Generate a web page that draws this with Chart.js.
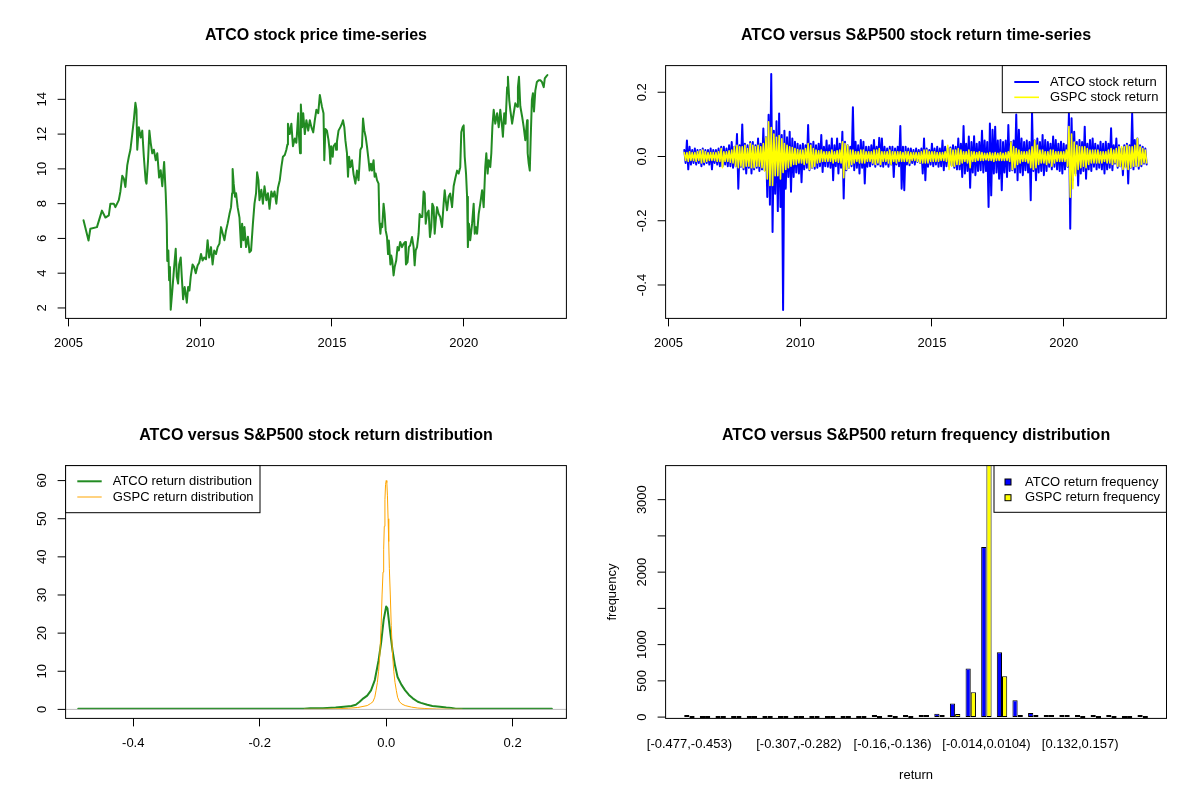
<!DOCTYPE html>
<html>
<head>
<meta charset="utf-8">
<title>ATCO versus S&amp;P500</title>
<script src="https://cdn.jsdelivr.net/npm/chart.js@4.4.1/dist/chart.umd.min.js"></script>
<style>
  body { margin: 0; background: #fff; }
  #wrap { position: relative; width: 1200px; height: 800px; }
  #wrap canvas { position: absolute; }
</style>
</head>
<body>
<div id="wrap">
  <canvas id="priceChart" width="600" height="400" style="left:0;top:0"></canvas>
  <canvas id="returnChart" width="600" height="400" style="left:600px;top:0"></canvas>
  <canvas id="densityChart" width="600" height="400" style="left:0;top:400px"></canvas>
  <canvas id="freqChart" width="600" height="400" style="left:600px;top:400px"></canvas>
</div>
<script>
const FONT = '"Liberation Sans", Arial, sans-serif';

// --- price series ---
const priceYears = [
  2005.57, 2005.76, 2005.83, 2006.08, 2006.27, 2006.40, 2006.53, 2006.59, 2006.72, 2006.78,
  2006.91, 2006.97, 2007.04, 2007.10, 2007.16, 2007.23, 2007.29, 2007.35, 2007.42, 2007.48,
  2007.54, 2007.58, 2007.61, 2007.67, 2007.74, 2007.80, 2007.86, 2007.93, 2007.96, 2008.02,
  2008.07, 2008.12, 2008.18, 2008.24, 2008.31, 2008.37, 2008.44, 2008.50, 2008.56, 2008.63,
  2008.69, 2008.73, 2008.75, 2008.79, 2008.82, 2008.85, 2008.88, 2008.94, 2009.01, 2009.07,
  2009.11, 2009.16, 2009.20, 2009.26, 2009.30, 2009.35, 2009.41, 2009.45, 2009.49, 2009.54,
  2009.59, 2009.64, 2009.71, 2009.77, 2009.83, 2009.90, 2009.96, 2010.03, 2010.09, 2010.15,
  2010.22, 2010.28, 2010.34, 2010.41, 2010.47, 2010.53, 2010.60, 2010.66, 2010.73, 2010.79,
  2010.85, 2010.92, 2010.98, 2011.04, 2011.11, 2011.17, 2011.21, 2011.23, 2011.27, 2011.32,
  2011.36, 2011.42, 2011.49, 2011.55, 2011.59, 2011.64, 2011.68, 2011.74, 2011.81, 2011.87,
  2011.93, 2012.00, 2012.06, 2012.12, 2012.16, 2012.21, 2012.25, 2012.32, 2012.38, 2012.44,
  2012.51, 2012.57, 2012.63, 2012.70, 2012.76, 2012.82, 2012.89, 2012.95, 2013.02, 2013.08,
  2013.14, 2013.21, 2013.27, 2013.31, 2013.33, 2013.40, 2013.46, 2013.52, 2013.59, 2013.65,
  2013.72, 2013.75, 2013.79, 2013.82, 2013.87, 2013.91, 2013.97, 2014.03, 2014.10, 2014.16,
  2014.22, 2014.29, 2014.35, 2014.41, 2014.48, 2014.54, 2014.62, 2014.68, 2014.71, 2014.75,
  2014.81, 2014.87, 2014.91, 2014.94, 2014.97, 2015.03, 2015.06, 2015.13, 2015.16, 2015.19,
  2015.25, 2015.32, 2015.38, 2015.42, 2015.47, 2015.51, 2015.57, 2015.61, 2015.65, 2015.70,
  2015.76, 2015.82, 2015.89, 2015.95, 2016.01, 2016.08, 2016.14, 2016.18, 2016.23, 2016.28,
  2016.33, 2016.39, 2016.43, 2016.48, 2016.52, 2016.58, 2016.62, 2016.66, 2016.71, 2016.77,
  2016.80, 2016.84, 2016.87, 2016.91, 2016.96, 2017.00, 2017.04, 2017.09, 2017.13, 2017.16,
  2017.22, 2017.25, 2017.29, 2017.34, 2017.38, 2017.44, 2017.49, 2017.54, 2017.59, 2017.66,
  2017.72, 2017.78, 2017.81, 2017.87, 2017.92, 2017.97, 2018.04, 2018.10, 2018.14, 2018.18,
  2018.23, 2018.29, 2018.33, 2018.38, 2018.43, 2018.48, 2018.52, 2018.56, 2018.61, 2018.67,
  2018.72, 2018.77, 2018.81, 2018.86, 2018.90, 2018.94, 2018.99, 2019.05, 2019.11, 2019.18,
  2019.24, 2019.28, 2019.32, 2019.37, 2019.43, 2019.49, 2019.56, 2019.62, 2019.68, 2019.75,
  2019.81, 2019.87, 2019.91, 2019.96, 2020.00, 2020.04, 2020.09, 2020.13, 2020.16, 2020.20,
  2020.25, 2020.32, 2020.38, 2020.42, 2020.47, 2020.51, 2020.57, 2020.63, 2020.70, 2020.76,
  2020.82, 2020.86, 2020.91, 2020.95, 2021.01, 2021.05, 2021.09, 2021.14, 2021.20, 2021.27,
  2021.33, 2021.39, 2021.46, 2021.49, 2021.54, 2021.59, 2021.65, 2021.68, 2021.73, 2021.77,
  2021.84, 2021.90, 2021.96, 2022.03, 2022.06, 2022.10, 2022.15, 2022.22, 2022.28, 2022.34,
  2022.41, 2022.43, 2022.47, 2022.51, 2022.54, 2022.59, 2022.63, 2022.67, 2022.72, 2022.78,
  2022.85, 2022.91, 2022.97, 2023.04, 2023.08, 2023.13, 2023.18
];
const priceValues = [
  7.04, 5.88, 6.56, 6.65, 7.6, 7.2, 7.33, 8.0, 8.0, 7.8,
  8.2, 8.7, 9.6, 9.44, 8.96, 10.2, 10.7, 11.1, 12.0, 12.8,
  13.8, 13.4, 11.1, 12.4, 11.8, 12.2, 10.7, 9.3, 9.15, 10.5,
  12.2, 11.5, 10.9, 11.1, 10.5, 10.9, 9.5, 9.92, 9.0, 10.4,
  8.6, 6.85, 4.7, 5.3, 3.6, 4.35, 1.9, 3.0, 4.35, 5.4,
  3.8, 3.4, 4.5, 4.9, 3.8, 2.5, 3.2, 2.81, 2.3, 3.2,
  3.0, 3.8, 4.5, 4.35, 4.0, 4.44, 4.6, 5.1, 4.73, 4.9,
  4.8, 5.9, 4.9, 5.5, 4.5, 5.3, 5.1, 5.5, 5.7, 6.65,
  6.3, 5.9, 6.46, 6.85, 7.4, 7.8, 8.6, 10.0, 9.15, 8.4,
  8.6, 7.8, 7.2, 5.5, 6.85, 5.9, 6.65, 5.5, 6.1, 5.2,
  5.3, 6.85, 8.0, 8.6, 9.8, 9.35, 8.2, 8.8, 8.0, 9.0,
  8.2, 8.6, 7.7, 8.7, 8.4, 8.7, 8.0, 8.9, 9.35, 10.1,
  10.7, 10.8, 11.1, 11.4, 12.6, 12.0, 12.6, 11.3, 11.75, 11.5,
  13.2, 11.85, 10.9, 13.7, 12.4, 13.2, 12.0, 12.8, 12.2, 12.8,
  12.4, 12.1, 12.8, 13.4, 13.2, 14.25, 13.58, 13.2, 10.5, 12.3,
  12.2, 11.65, 11.1, 10.3, 11.3, 10.7, 11.3, 11.46, 11.1, 11.56,
  12.2, 12.4, 12.6, 12.8, 12.4, 11.65, 10.9, 9.55, 10.7, 10.1,
  10.5, 9.7, 9.15, 9.9, 9.35, 11.1, 11.27, 12.9, 12.2, 11.85,
  11.3, 10.5, 9.9, 10.3, 9.9, 10.5, 9.55, 9.73, 9.35, 9.15,
  7.04, 6.27, 6.85, 6.65, 8.0, 7.42, 6.46, 6.08, 5.1, 5.88,
  4.5, 5.02, 4.73, 3.87, 4.35, 4.73, 5.5, 5.31, 5.8, 5.5,
  5.7, 5.79, 4.5, 4.63, 5.5, 5.6, 6.08, 5.5, 4.45, 5.31,
  5.5, 6.27, 7.4, 7.23, 7.23, 8.7, 8.58, 6.85, 7.42, 7.6,
  6.08, 6.65, 8.0, 7.8, 6.27, 7.04, 7.8, 7.42, 7.23, 6.65,
  8.0, 8.77, 8.19, 7.62, 8.4, 8.58, 7.8, 9.0, 9.45, 9.9,
  9.73, 10.1, 12.1, 12.4, 12.5, 10.7, 9.73, 8.4, 5.5, 6.85,
  5.9, 6.85, 8.0, 6.27, 6.65, 6.27, 7.4, 8.0, 8.77, 7.8,
  10.1, 10.9, 9.73, 10.5, 10.1, 10.9, 12.4, 13.4, 12.6, 13.2,
  12.4, 13.4, 12.4, 11.85, 13.2, 12.6, 14.7, 15.3, 13.96, 13.4,
  12.6, 13.2, 13.77, 13.58, 14.7, 15.3, 13.6, 13.0, 12.4, 11.65,
  12.8, 10.9, 10.3, 9.9, 11.5, 13.96, 14.35, 13.3, 14.5, 15.0,
  15.1, 15.1, 15.0, 14.7, 15.2, 15.3, 15.4
];
const yearTicks = [2005, 2010, 2015, 2020];
const priceTicks = [2, 4, 6, 8, 10, 12, 14];

// --- daily returns, upper / lower envelope per 0.1-year slot from 2005.6 ---
const retStart = 2005.6;
const retStep = 0.1;
const atcoHi = [
  0.02, 0.05, 0.03, 0.02, 0.025, 0.02, 0.02, 0.025, 0.02, 0.02,
  0.025, 0.02, 0.02, 0.025, 0.03, 0.03, 0.025, 0.035, 0.045, 0.03,
  0.07, 0.035, 0.1, 0.04, 0.035, 0.045, 0.045, 0.035, 0.056, 0.04,
  0.087, 0.06, 0.13, 0.257, 0.08, 0.11, 0.134, 0.067, 0.08, 0.06,
  0.077, 0.056, 0.046, 0.04, 0.035, 0.04, 0.035, 0.098, 0.04, 0.046,
  0.035, 0.04, 0.067, 0.03, 0.05, 0.035, 0.056, 0.035, 0.056, 0.04,
  0.077, 0.046, 0.035, 0.03, 0.153, 0.046, 0.035, 0.051, 0.046, 0.03,
  0.03, 0.035, 0.051, 0.03, 0.058, 0.056, 0.03, 0.025, 0.03, 0.03,
  0.025, 0.03, 0.095, 0.03, 0.03, 0.025, 0.025, 0.02, 0.025, 0.02,
  0.025, 0.056, 0.025, 0.02, 0.04, 0.025, 0.03, 0.025, 0.05, 0.03,
  0.025, 0.028, 0.035, 0.03, 0.056, 0.04, 0.095, 0.04, 0.062, 0.045,
  0.063, 0.04, 0.045, 0.08, 0.05, 0.045, 0.103, 0.083, 0.093, 0.05,
  0.051, 0.045, 0.05, 0.098, 0.045, 0.05, 0.131, 0.083, 0.056, 0.045,
  0.05, 0.045, 0.136, 0.05, 0.056, 0.045, 0.067, 0.051, 0.045, 0.04,
  0.062, 0.051, 0.04, 0.046, 0.04, 0.035, 0.134, 0.119, 0.077, 0.045,
  0.051, 0.045, 0.093, 0.04, 0.051, 0.056, 0.04, 0.035, 0.046, 0.04,
  0.046, 0.04, 0.088, 0.035, 0.056, 0.035, 0.025, 0.035, 0.04, 0.035,
  0.134, 0.051, 0.056, 0.035, 0.03, 0.025
];
const atcoLo = [
  -0.02, -0.04, -0.025, -0.02, -0.025, -0.02, -0.03, -0.025, -0.02, -0.025,
  -0.04, -0.02, -0.025, -0.03, -0.03, -0.025, -0.03, -0.03, -0.035, -0.03,
  -0.1, -0.032, -0.04, -0.053, -0.035, -0.053, -0.04, -0.035, -0.045, -0.04,
  -0.043, -0.126, -0.15, -0.235, -0.116, -0.17, -0.157, -0.478, -0.1, -0.064,
  -0.11, -0.064, -0.05, -0.053, -0.08, -0.04, -0.035, -0.043, -0.035, -0.038,
  -0.035, -0.03, -0.048, -0.03, -0.032, -0.035, -0.074, -0.03, -0.053, -0.035,
  -0.131, -0.043, -0.035, -0.03, -0.043, -0.035, -0.053, -0.035, -0.084, -0.032,
  -0.03, -0.025, -0.032, -0.025, -0.03, -0.032, -0.025, -0.032, -0.025, -0.064,
  -0.025, -0.03, -0.1, -0.105, -0.025, -0.027, -0.02, -0.025, -0.017, -0.02,
  -0.053, -0.074, -0.032, -0.025, -0.03, -0.025, -0.032, -0.03, -0.043, -0.03,
  -0.03, -0.027, -0.035, -0.04, -0.04, -0.064, -0.053, -0.045, -0.097, -0.05,
  -0.058, -0.045, -0.043, -0.05, -0.045, -0.157, -0.121, -0.053, -0.05, -0.069,
  -0.105, -0.05, -0.064, -0.045, -0.043, -0.05, -0.074, -0.05, -0.058, -0.043,
  -0.05, -0.136, -0.045, -0.074, -0.05, -0.045, -0.058, -0.045, -0.032, -0.04,
  -0.032, -0.04, -0.045, -0.053, -0.04, -0.032, -0.225, -0.074, -0.053, -0.09,
  -0.053, -0.045, -0.069, -0.04, -0.045, -0.032, -0.04, -0.035, -0.04, -0.053,
  -0.04, -0.035, -0.043, -0.022, -0.035, -0.03, -0.058, -0.032, -0.084, -0.035,
  -0.04, -0.03, -0.038, -0.03, -0.022, -0.025
];
const gspcHi = [
  0.012, 0.012, 0.015, 0.012, 0.012, 0.015, 0.018, 0.02, 0.015, 0.012,
  0.012, 0.012, 0.012, 0.015, 0.025, 0.015, 0.015, 0.018, 0.02, 0.03,
  0.035, 0.03, 0.03, 0.035, 0.025, 0.04, 0.035, 0.03, 0.035, 0.03,
  0.04, 0.06, 0.108, 0.09, 0.07, 0.06, 0.065, 0.055, 0.04, 0.035,
  0.03, 0.028, 0.025, 0.022, 0.02, 0.02, 0.025, 0.04, 0.035, 0.025,
  0.02, 0.018, 0.02, 0.015, 0.015, 0.015, 0.02, 0.015, 0.018, 0.02,
  0.046, 0.04, 0.035, 0.02, 0.02, 0.015, 0.015, 0.02, 0.02, 0.015,
  0.015, 0.015, 0.02, 0.02, 0.025, 0.015, 0.015, 0.015, 0.02, 0.015,
  0.015, 0.015, 0.015, 0.012, 0.015, 0.015, 0.012, 0.012, 0.012, 0.012,
  0.015, 0.02, 0.02, 0.015, 0.015, 0.015, 0.012, 0.012, 0.012, 0.015,
  0.035, 0.025, 0.02, 0.02, 0.025, 0.02, 0.015, 0.015, 0.02, 0.015,
  0.015, 0.012, 0.015, 0.012, 0.01, 0.01, 0.012, 0.01, 0.012, 0.01,
  0.012, 0.01, 0.012, 0.015, 0.045, 0.03, 0.025, 0.02, 0.015, 0.015,
  0.015, 0.02, 0.03, 0.05, 0.035, 0.02, 0.02, 0.015, 0.015, 0.02,
  0.02, 0.015, 0.015, 0.015, 0.015, 0.02, 0.093, 0.07, 0.045, 0.035,
  0.03, 0.03, 0.03, 0.025, 0.02, 0.02, 0.02, 0.02, 0.015, 0.015,
  0.015, 0.02, 0.025, 0.02, 0.025, 0.03, 0.03, 0.03, 0.035, 0.03,
  0.03, 0.035, 0.056, 0.03, 0.025, 0.02
];
const gspcLo = [
  -0.012, -0.015, -0.012, -0.012, -0.015, -0.012, -0.02, -0.018, -0.015, -0.012,
  -0.012, -0.012, -0.015, -0.015, -0.035, -0.015, -0.015, -0.018, -0.02, -0.03,
  -0.035, -0.03, -0.035, -0.03, -0.03, -0.035, -0.035, -0.03, -0.03, -0.035,
  -0.045, -0.07, -0.09, -0.09, -0.06, -0.06, -0.07, -0.05, -0.04, -0.035,
  -0.03, -0.025, -0.025, -0.02, -0.02, -0.025, -0.02, -0.04, -0.035, -0.03,
  -0.02, -0.018, -0.015, -0.015, -0.015, -0.015, -0.02, -0.015, -0.018, -0.02,
  -0.066, -0.04, -0.035, -0.025, -0.02, -0.015, -0.02, -0.02, -0.02, -0.015,
  -0.015, -0.02, -0.025, -0.02, -0.025, -0.015, -0.015, -0.02, -0.025, -0.015,
  -0.02, -0.015, -0.015, -0.015, -0.015, -0.02, -0.012, -0.012, -0.015, -0.02,
  -0.02, -0.02, -0.02, -0.015, -0.015, -0.015, -0.015, -0.012, -0.012, -0.015,
  -0.04, -0.03, -0.03, -0.025, -0.025, -0.02, -0.015, -0.02, -0.035, -0.015,
  -0.015, -0.012, -0.012, -0.012, -0.01, -0.012, -0.012, -0.015, -0.012, -0.012,
  -0.012, -0.012, -0.012, -0.015, -0.041, -0.035, -0.025, -0.02, -0.015, -0.015,
  -0.02, -0.035, -0.04, -0.035, -0.025, -0.02, -0.02, -0.025, -0.02, -0.03,
  -0.02, -0.015, -0.015, -0.015, -0.015, -0.03, -0.127, -0.1, -0.06, -0.04,
  -0.035, -0.03, -0.035, -0.025, -0.02, -0.02, -0.02, -0.02, -0.02, -0.015,
  -0.02, -0.02, -0.025, -0.02, -0.03, -0.03, -0.04, -0.035, -0.04, -0.035,
  -0.03, -0.03, -0.03, -0.025, -0.02, -0.02
];
const returnTicks = [-0.4, -0.2, 0.0, 0.2];

// --- kernel densities ---
const atcoDensX = [-0.487, -0.3, -0.13, -0.12, -0.1, -0.08, -0.067, -0.055, -0.048, -0.042,
  -0.036, -0.03, -0.024, -0.018, -0.012, -0.008, -0.004, 0.0, 0.002, 0.006,
  0.01, 0.014, 0.018, 0.024, 0.03, 0.036, 0.042, 0.05, 0.055, 0.065,
  0.073, 0.085, 0.095, 0.103, 0.11, 0.15, 0.262];
const atcoDensY = [0.15, 0.15, 0.15, 0.3, 0.3, 0.5, 0.7, 0.9, 1.2, 2.0,
  2.9, 3.6, 5.0, 7.7, 12.9, 17.5, 23.5, 27.0, 26.5, 20.7,
  15.5, 11.5, 8.5, 6.5, 5.0, 3.8, 2.9, 2.0, 1.7, 1.2,
  0.9, 0.7, 0.5, 0.4, 0.2, 0.15, 0.15];
const gspcDensX = [-0.13, -0.1, -0.08, -0.06, -0.045, -0.03, -0.025, -0.021, -0.018, -0.016,
  -0.014, -0.012, -0.01, -0.008, -0.0065, -0.005, -0.004, -0.003, -0.002, -0.001,
  0.0, 0.001, 0.002, 0.003, 0.004, 0.005, 0.0065, 0.008, 0.01, 0.012,
  0.014, 0.016, 0.018, 0.021, 0.025, 0.03, 0.04, 0.05, 0.06, 0.08,
  0.1, 0.12];
const gspcDensY = [0.02, 0.05, 0.15, 0.3, 0.5, 1.0, 1.5, 2.0, 3.2, 5.0,
  7.0, 10.0, 14.5, 22, 30, 36, 42, 48, 55, 59,
  60, 59.5, 56, 50, 44, 37, 30, 22, 14.5, 10,
  7, 5, 3.2, 2, 1.4, 1.0, 0.6, 0.35, 0.25, 0.1,
  0.05, 0.02];
const densXTicks = [-0.4, -0.2, 0.0, 0.2];
const densYTicks = [0, 10, 20, 30, 40, 50, 60];

// --- histogram of returns (30 bins) ---
const binLabels = [
  '[-0.477,-0.453)', '[-0.453,-0.428)', '[-0.428,-0.404)', '[-0.404,-0.38)', '[-0.38,-0.355)',
  '[-0.355,-0.331)', '[-0.331,-0.307)', '[-0.307,-0.282)', '[-0.282,-0.258)', '[-0.258,-0.233)',
  '[-0.233,-0.209)', '[-0.209,-0.185)', '[-0.185,-0.16)', '[-0.16,-0.136)', '[-0.136,-0.111)',
  '[-0.111,-0.0872)', '[-0.0872,-0.0628)', '[-0.0628,-0.0384)', '[-0.0384,-0.014)', '[-0.014,0.0104)',
  '[0.0104,0.0348)', '[0.0348,0.0592)', '[0.0592,0.0836)', '[0.0836,0.108)', '[0.108,0.132)',
  '[0.132,0.157)', '[0.157,0.181)', '[0.181,0.206)', '[0.206,0.23)', '[0.23,0.255)'
];
const shownBins = [0, 7, 13, 19, 25];
const atcoFreq = [1, 0, 0, 0, 0, 0, 0, 0, 0, 0,
  0, 0, 3, 12, 18, 30, 45, 186, 672, 2348,
  893, 232, 58, 28, 14, 3, 2, 1, 0, 1];
const gspcFreq = [0, 0, 0, 0, 0, 0, 0, 0, 0, 0,
  0, 0, 0, 0, 0, 3, 14, 42, 343, 3512,
  564, 28, 10, 3, 1, 0, 0, 0, 0, 0];
const freqTicks = [0, 500, 1000, 1500, 2000, 2500, 3000];
const freqLabels = ['0', '500', '1000', '', '2000', '', '3000'];

// R-like frame: box, rotated y labels, title, boxed legend
const rFrame = {
  id: 'rFrame',
  afterDatasetsDraw(chart, args, o) {
    if (!o.zeroLine) return;
    const { ctx, chartArea: a } = chart;
    const y = chart.scales.y.getPixelForValue(0);
    ctx.save();
    ctx.strokeStyle = '#BEBEBE';
    ctx.lineWidth = 1;
    ctx.beginPath();
    ctx.moveTo(a.left, y);
    ctx.lineTo(a.right, y);
    ctx.stroke();
    ctx.restore();
  },
  afterDraw(chart, args, o) {
    const { ctx, chartArea: a } = chart;
    const pad = o.boxPad || 0;
    const left = a.left - pad, right = a.right + pad, mid = (left + right) / 2;
    const ys = chart.scales.y;
    ctx.save();
    ctx.strokeStyle = '#000';
    ctx.fillStyle = '#000';
    ctx.lineWidth = 1;
    ctx.font = '13px ' + FONT;
    ctx.textAlign = 'center';
    ctx.textBaseline = 'middle';
    o.yTicks.forEach((v, i) => {
      const y = ys.getPixelForValue(v);
      ctx.beginPath();
      ctx.moveTo(left, y);
      ctx.lineTo(left - 8, y);
      ctx.stroke();
      const lab = o.yLabels[i];
      if (lab) {
        ctx.save();
        ctx.translate(left - 23.3, y);
        ctx.rotate(-Math.PI / 2);
        ctx.fillText(lab, 0, 0);
        ctx.restore();
      }
    });
    ctx.strokeRect(left, a.top, right - left, a.bottom - a.top);
    if (o.xTitle) ctx.fillText(o.xTitle, mid, 375);
    if (o.yTitle) {
      ctx.save();
      ctx.translate(12, (a.top + a.bottom) / 2);
      ctx.rotate(-Math.PI / 2);
      ctx.fillText(o.yTitle, 0, 0);
      ctx.restore();
    }
    ctx.font = 'bold 16px ' + FONT;
    ctx.fillText(o.title, mid, 35.5);

    const lg = o.legend;
    if (lg) {
      ctx.fillStyle = '#fff';
      ctx.fillRect(lg.x0, lg.y0, lg.x1 - lg.x0, lg.y1 - lg.y0);
      ctx.strokeStyle = '#000';
      ctx.lineWidth = 1;
      ctx.strokeRect(lg.x0, lg.y0, lg.x1 - lg.x0, lg.y1 - lg.y0);
      ctx.font = '13px ' + FONT;
      ctx.textAlign = 'left';
      chart.data.datasets.forEach((ds, i) => {
        const y = lg.rows[i];
        if (lg.fill) {
          ctx.fillStyle = ds.backgroundColor;
          ctx.fillRect(lg.symX0, y - 3, 6, 6);
          ctx.strokeStyle = '#000';
          ctx.lineWidth = 1;
          ctx.strokeRect(lg.symX0, y - 3, 6, 6);
        } else {
          ctx.strokeStyle = ds.borderColor;
          ctx.lineWidth = ds.borderWidth;
          ctx.beginPath();
          ctx.moveTo(lg.symX0, y);
          ctx.lineTo(lg.symX1, y);
          ctx.stroke();
        }
        ctx.fillStyle = '#000';
        ctx.fillText(ds.label, lg.textX, y);
      });
    }
    ctx.restore();
  }
};

const tickFont = { family: FONT, size: 13 };
const pad = { left: 65.6, right: 33.6, top: 65.6, bottom: 0 };

function xLinear(min, max, ticks, fmt) {
  return {
    type: 'linear', min: min, max: max, bounds: 'data',
    afterBuildTicks: s => { s.ticks = ticks.map(v => ({ value: v })); },
    afterFit: s => { s.height = 81.6; },
    grid: { drawOnChartArea: false, drawTicks: true, tickLength: 8, color: '#000' },
    border: { display: false },
    ticks: { font: tickFont, color: '#000', padding: 9, autoSkip: false, maxRotation: 0, callback: fmt }
  };
}

function zigzag(hi, lo) {
  const pts = [];
  hi.forEach((h, i) => {
    const t = retStart + i * retStep;
    pts.push({ x: t, y: h }, { x: t + retStep / 2, y: lo[i] });
  });
  return pts;
}

const lineStyle = { pointRadius: 0, fill: false, tension: 0, borderJoinStyle: 'round', borderCapStyle: 'round' };

// ATCO price
new Chart(document.getElementById('priceChart'), {
  type: 'line',
  data: {
    datasets: [Object.assign({
      label: 'ATCO price',
      data: priceYears.map((t, i) => ({ x: t, y: priceValues[i] })),
      borderColor: '#228B22', borderWidth: 2
    }, lineStyle)]
  },
  options: {
    animation: false, responsive: false,
    layout: { padding: pad },
    scales: {
      x: xLinear(2004.89, 2023.9, yearTicks, v => String(v)),
      y: { display: false, min: 1.4, max: 15.94 }
    },
    plugins: {
      legend: { display: false }, tooltip: { enabled: false },
      rFrame: { title: 'ATCO stock price time-series', yTicks: priceTicks, yLabels: priceTicks.map(String) }
    }
  },
  plugins: [rFrame]
});

// ATCO vs GSPC returns
new Chart(document.getElementById('returnChart'), {
  type: 'line',
  data: {
    datasets: [
      Object.assign({ label: 'ATCO stock return', data: zigzag(atcoHi, atcoLo), borderColor: '#0000FF', borderWidth: 2, order: 1 }, lineStyle),
      Object.assign({ label: 'GSPC stock return', data: zigzag(gspcHi, gspcLo), borderColor: '#FFFF00', borderWidth: 1.6, order: 0 }, lineStyle)
    ]
  },
  options: {
    animation: false, responsive: false,
    layout: { padding: pad },
    scales: {
      x: xLinear(2004.89, 2023.9, yearTicks, v => String(v)),
      y: { display: false, min: -0.504, max: 0.283 }
    },
    plugins: {
      legend: { display: false }, tooltip: { enabled: false },
      rFrame: {
        title: 'ATCO versus S&P500 stock return time-series',
        yTicks: returnTicks, yLabels: returnTicks.map(v => v.toFixed(1)),
        legend: { x0: 402.3, x1: 566.4, y0: 65.6, y1: 112.7, rows: [82, 97.3], symX0: 414.3, symX1: 439, textX: 450 }
      }
    }
  },
  plugins: [rFrame]
});

// density
new Chart(document.getElementById('densityChart'), {
  type: 'line',
  data: {
    datasets: [
      Object.assign({ label: 'ATCO return distribution', data: atcoDensX.map((x, i) => ({ x: x, y: atcoDensY[i] })), borderColor: '#228B22', borderWidth: 2, order: 1 }, lineStyle),
      Object.assign({ label: 'GSPC return distribution', data: gspcDensX.map((x, i) => ({ x: x, y: gspcDensY[i] })), borderColor: '#FFA500', borderWidth: 1, order: 0 }, lineStyle)
    ]
  },
  options: {
    animation: false, responsive: false,
    layout: { padding: pad },
    scales: {
      x: xLinear(-0.507, 0.285, densXTicks, v => v.toFixed(1)),
      y: { display: false, min: -2.36, max: 63.93 }
    },
    plugins: {
      legend: { display: false }, tooltip: { enabled: false },
      rFrame: {
        title: 'ATCO versus S&P500 stock return distribution',
        yTicks: densYTicks, yLabels: densYTicks.map(String), zeroLine: true,
        legend: { x0: 65.6, x1: 260, y0: 65.6, y1: 112.7, rows: [81.3, 97], symX0: 77.3, symX1: 101.7, textX: 112.7 }
      }
    }
  },
  plugins: [rFrame]
});

// frequency histogram
new Chart(document.getElementById('freqChart'), {
  type: 'bar',
  data: {
    labels: binLabels,
    datasets: [
      { label: 'ATCO return frequency', data: atcoFreq, backgroundColor: '#0000FF', borderColor: '#000', borderWidth: 1, borderSkipped: false, minBarLength: 2 },
      { label: 'GSPC return frequency', data: gspcFreq, backgroundColor: '#FFFF00', borderColor: '#000', borderWidth: 1, borderSkipped: false, minBarLength: 2 }
    ]
  },
  options: {
    animation: false, responsive: false,
    layout: { padding: { left: 81.6, right: 49.5, top: 65.6, bottom: 0 } },
    datasets: { bar: { barPercentage: 1, categoryPercentage: 2 / 3 } },
    scales: {
      x: {
        type: 'category', offset: true,
        afterFit: s => { s.height = 81.6; },
        grid: { display: false, drawTicks: false },
        border: { display: false },
        ticks: {
          font: tickFont, color: '#000', padding: 18, autoSkip: false, maxRotation: 0, minRotation: 0,
          callback: (v, i) => shownBins.includes(i) ? binLabels[i] : ''
        }
      },
      y: { display: false, min: -18, max: 3470 }
    },
    plugins: {
      legend: { display: false }, tooltip: { enabled: false },
      rFrame: {
        title: 'ATCO versus S&P500 return frequency distribution',
        boxPad: 16, yTicks: freqTicks, yLabels: freqLabels,
        xTitle: 'return', yTitle: 'frequency',
        legend: { x0: 394, x1: 566.4, y0: 65.6, y1: 112.3, rows: [82, 97.7], fill: true, symX0: 405, textX: 425 }
      }
    }
  },
  plugins: [rFrame]
});
</script>
</body>
</html>
